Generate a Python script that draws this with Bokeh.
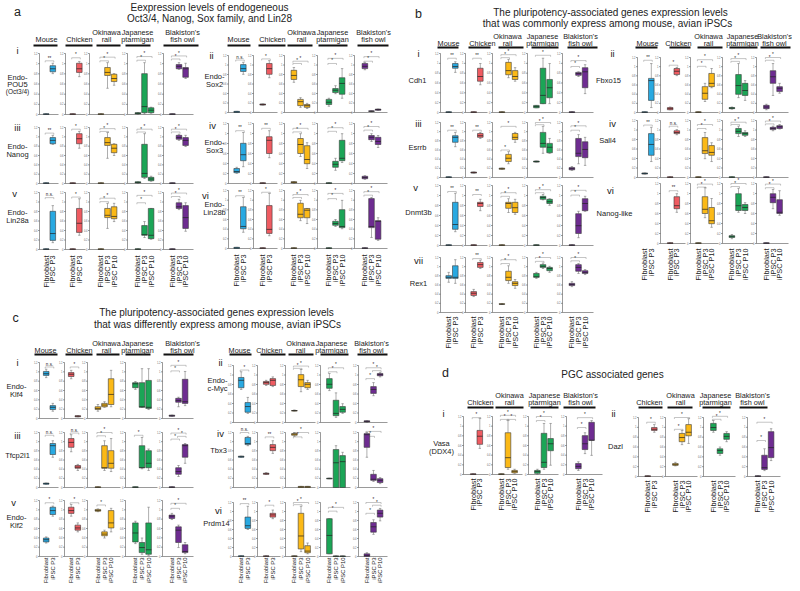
import math
from bokeh.plotting import figure
from bokeh.models import ColumnDataSource, Range1d
from bokeh.embed import file_html
from bokeh.resources import INLINE
from bokeh.core.properties import value

FONT = "Liberation Sans"

# ---------------- data ----------------
SPECIES = ["Mouse", "Chicken", "Okinawa\nrail", "Japanese\nptarmigan", "Blakiston's\nfish owl"]
SP_COLOR = ["#29A9E1", "#EF5B61", "#FBB917", "#1BA556", "#6E2C91"]
CELLS = [["Fibroblast", "iPSC P3"], ["Fibroblast", "iPSC P3"],
         ["Fibroblast", "iPSC P3", "iPSC P10"], ["Fibroblast", "iPSC P3", "iPSC P10"],
         ["Fibroblast", "iPSC P3", "iPSC P10"]]
TICK_LABELS = ["0", "0.2", "0.4", "0.6", "0.8", "1", "1.2"]

# each box: [low whisker, q1, median, q3, high whisker] as share of the panel axis
Z = [0.0, 0.0, 0.006, 0.012, 0.012]

POU5 = [[Z, [.67, .70, .75, .80, .84]],
        [Z, [.62, .69, .75, .84, .87]],
        [Z, [.43, .64, .69, .77, .85], [.48, .54, .59, .66, .67]],
        [[0, .01, .02, .03, .03], [.01, .03, .13, .67, .85], [.02, .03, .07, .11, .12]],
        [Z, [.74, .75, .79, .82, .85], [.59, .61, .75, .77, .84]]]
POU5_SIG = [[(0, 1, .88, "**")], [(0, 1, .93, "*")], [(0, 1, .88, "*"), (0, 2, .94, "*")],
            [(0, 1, .89, "*"), (0, 2, .95, "*")], [(0, 1, .91, "*"), (0, 2, .96, "*")]]

NANOG = [[Z, [.70, .71, .77, .82, .86]],
         [Z, [.63, .71, .80, .89, .93]],
         [Z, [.45, .68, .73, .82, .91], [.50, .55, .63, .70, .71]],
         [[0, .01, .02, .03, .03], [.09, .11, .18, .70, .89], [.04, .05, .08, .11, .13]],
         [Z, [.77, .79, .82, .86, .88], [.66, .68, .77, .82, .86]]]
NANOG_SIG = [[(0, 1, .9, "**")], [(0, 1, .97, "*")], [(0, 1, .93, "*"), (0, 2, .98, "*")],
             [(0, 1, .92, "*"), (0, 2, .97, "*")], [(0, 1, .92, "*"), (0, 2, .97, "*")]]

LIN28A = [[Z, [.12, .16, .28, .67, .77]],
          [Z, [.25, .30, .46, .72, .89]],
          [Z, [.37, .56, .60, .72, .81], [.49, .54, .58, .75, .81]],
          [Z, [.21, .25, .26, .42, .49], [.18, .19, .25, .72, .72]],
          [Z, [.70, .72, .75, .82, .88], [.32, .37, .56, .77, .82]]]
LIN28A_SIG = [[(0, 1, .91, "n.s.")], [(0, 1, .92, "*")], [(0, 1, .84, "*"), (0, 2, .9, "*")],
              [(0, 1, .82, "*"), (0, 2, .95, "*")], [(0, 1, .93, "*"), (0, 2, .99, "*")]]

SOX2 = [[[0, 0, .01, .02, .02], [.67, .72, .77, .84, .88]],
        [[.13, .13, .14, .15, .15], [.61, .67, .77, .86, .91]],
        [[.53, .58, .65, .74, .79], [.09, .12, .19, .23, .26], [.07, .09, .12, .14, .16]],
        [[.11, .14, .18, .23, .25], [.33, .35, .39, .42, .47], [.25, .32, .51, .61, .77]],
        [[.75, .77, .81, .86, .88], [.01, .02, .02, .03, .03], [.04, .04, .05, .06, .06]]]
SOX2_SIG = [[(0, 1, .92, "n.s.")], [(0, 1, .94, "*")], [(0, 1, .86, "*"), (0, 2, .9, "*")],
            [(0, 1, .86, "*"), (0, 2, .95, "*")], [(0, 1, .9, "*"), (0, 2, .98, "*")]]

SOX3 = [[[.17, .18, .20, .25, .27], [.28, .38, .48, .67, .85]],
        [Z, [.43, .50, .72, .78, .88]],
        [[0, .01, .02, .03, .03], [.45, .50, .65, .75, .83], [.25, .33, .40, .63, .68]],
        [Z, [.22, .27, .32, .37, .42], [.35, .38, .42, .72, .83]],
        [[.07, .08, .10, .12, .13], [.70, .73, .77, .80, .83], [.60, .65, .70, .77, .80]]]
SOX3_SIG = [[(0, 1, .88, "**")], [(0, 1, .92, "**")], [(0, 1, .86, "*"), (0, 2, .92, "*")],
            [(0, 1, .87, "*"), (0, 2, .93, "*")], [(0, 1, .89, "*"), (0, 2, .95, "*")]]

LIN28B = [[[0, 0, .01, .02, .02], [.28, .34, .38, .72, .88]],
          [Z, [.22, .26, .33, .74, .95]],
          [Z, [.48, .53, .59, .78, .83], [.43, .53, .66, .69, .69]],
          [Z, [.38, .40, .43, .47, .50], [.34, .36, .38, .67, .83]],
          [Z, [.19, .36, .38, .86, .88], [.14, .16, .47, .48, .53]]]
LIN28B_SIG = [[(0, 1, .91, "**")], [(0, 1, .97, "*")], [(0, 1, .88, "*"), (0, 2, .93, "*")],
              [(0, 1, .86, "*"), (0, 2, .95, "*")], [(0, 1, .92, "*"), (0, 2, .98, "*")]]

CDH1 = [[Z, [.68, .75, .78, .83, .86]],
        [Z, [.47, .53, .61, .75, .83]],
        [Z, [.59, .64, .71, .85, .90], [.53, .56, .61, .71, .76]],
        [[.08, .08, .10, .12, .12], [.15, .15, .29, .75, .92], [.15, .25, .42, .56, .83]],
        [Z, [.61, .63, .66, .68, .69], [.32, .42, .69, .76, .81]]]
CDH1_SIG = [[(0, 1, .92, "**")], [(0, 1, .92, "**")], [(0, 1, .93, "*"), (0, 2, .98, "*")],
            [(0, 2, .97, "*")], [(0, 1, .78, "*"), (0, 2, .88, "*")]]

ESRRB = [[Z, [.56, .64, .73, .76, .82]],
         [[.08, .08, .09, .10, .10], [.71, .73, .76, .80, .82]],
         [[.15, .15, .16, .17, .17], [.25, .29, .35, .42, .47], [.64, .69, .73, .80, .82]],
         [[.28, .28, .29, .30, .30], [.44, .55, .62, .82, .93], [.44, .45, .55, .62, .71]],
         [[.13, .14, .16, .18, .20], [.25, .38, .44, .71, .78], [.22, .36, .51, .65, .73]]]
ESRRB_SIG = [[(0, 1, .86, "**")], [(0, 1, .86, "**")], [(0, 1, .5, "*"), (0, 2, .93, "*")],
             [(0, 1, .96, "*"), (0, 2, 1.0, "*")], [(0, 1, .86, "*"), (0, 2, .94, "*")]]

DNMT3B = [[Z, [.23, .27, .35, .72, .87]],
          [Z, [.58, .65, .70, .72, .77]],
          [Z, [.55, .62, .70, .72, .78], [.52, .55, .63, .72, .77]],
          [Z, [.76, .77, .80, .82, .85], [.67, .70, .73, .77, .78]],
          [Z, [.13, .20, .33, .53, .57], [.57, .58, .70, .78, .82]]]
DNMT3B_SIG = [[(0, 1, .9, "**")], [(0, 1, .85, "**")], [(0, 1, .82, "*"), (0, 2, .88, "*")],
              [(0, 1, .88, "*"), (0, 2, .93, "*")], [(0, 1, .84, "*"), (0, 2, .92, "*")]]

REX1 = [[[.55, .62, .64, .67, .73], [.53, .62, .64, .85, .96]],
        [[.29, .31, .35, .38, .42], [.80, .82, .87, .91, .95]],
        [[.15, .15, .15, .16, .16], [.53, .58, .64, .75, .85], [.44, .49, .53, .56, .60]],
        [[.62, .64, .65, .71, .73], [.80, .82, .84, .87, .90], [.73, .76, .80, .82, .84]],
        [[.47, .49, .51, .53, .56], [.71, .75, .82, .87, .89], [.69, .71, .73, .76, .78]]]
REX1_SIG = [[], [(0, 1, .98, "**")], [(0, 1, .89, "*"), (0, 2, .96, "*")],
            [(0, 1, .93, "*"), (0, 2, 1.0, "*")], [(0, 1, .94, "*"), (0, 2, 1.0, "*")]]

FBXO15 = [[Z, [.09, .22, .58, .62, .89]],
          [[.05, .05, .07, .09, .10], [.67, .69, .75, .80, .82]],
          [Z, [.20, .24, .35, .47, .53], [.45, .47, .53, .71, .80]],
          [[.06, .07, .08, .09, .10], [.27, .33, .49, .69, .89], [.22, .31, .40, .53, .58]],
          [[.05, .07, .10, .13, .15], [.31, .53, .65, .76, .89], [.35, .38, .44, .47, .53]]]
FBXO15_SIG = [[(0, 1, .95, "**")], [(0, 1, .86, "*")], [(0, 1, .84, "*"), (0, 2, .96, "*")],
              [(0, 1, .93, "*"), (0, 2, .98, "*")], [(0, 1, .95, "*"), (0, 2, 1.0, "*")]]

SALL4 = [[[.06, .06, .07, .08, .08], [.28, .39, .58, .77, .88]],
         [Z, [.75, .77, .79, .82, .84]],
         [Z, [.33, .42, .47, .70, .79], [.28, .39, .44, .56, .61]],
         [Z, [.72, .77, .81, .86, .90], [.72, .74, .77, .79, .82]],
         [Z, [.82, .84, .86, .88, .90], [.85, .86, .89, .91, .93]]]
SALL4_SIG = [[(0, 1, .92, "**")], [(0, 1, .9, "n.s.")], [(0, 1, .86, "*"), (0, 2, .93, "*")],
             [(0, 1, .93, "*"), (0, 2, .97, "*")], [(0, 1, .94, "*"), (0, 2, .99, "*")]]

NANOG_LIKE = [None,
              [Z, [.52, .58, .63, .78, .83]],
              [Z, [.43, .50, .57, .78, .93], [.27, .33, .38, .60, .75]],
              [[.08, .10, .12, .13, .15], [.52, .55, .63, .83, .92], [.50, .55, .60, .65, .68]],
              [Z, [.58, .68, .77, .83, .90], [.47, .50, .52, .73, .88]]]
NANOG_LIKE_SIG = [[], [(0, 1, .88, "**")], [(0, 1, .94, "*"), (0, 2, .99, "*")],
                  [(0, 1, .95, "*"), (0, 2, 1.0, "*")], [(0, 1, .93, "*"), (0, 2, .99, "*")]]

KLF4 = [[[.73, .77, .80, .84, .88], [.13, .16, .20, .23, .27]],
        [[.71, .75, .79, .82, .86], [.03, .03, .04, .05, .05]],
        [[.13, .16, .18, .21, .25], [.20, .21, .24, .27, .30], [.21, .25, .43, .71, .86]],
        [[.52, .55, .62, .64, .66], [.20, .20, .21, .64, .89], [.16, .18, .20, .68, .89]],
        [[.04, .04, .05, .06, .06], [.21, .29, .32, .36, .38], [.23, .27, .30, .70, .84]]]
KLF4_SIG = [[(0, 1, .92, "n.s.")], [(0, 1, .92, "*")], [], [],
            [(0, 1, .85, "*"), (0, 2, .95, "*")]]

TFCP2L1 = [[[.06, .06, .07, .08, .08], [.55, .60, .76, .80, .85]],
           [[.65, .73, .82, .89, .96], [.31, .35, .37, .40, .42]],
           [Z, [.31, .35, .36, .76, .85], [.29, .35, .44, .67, .89]],
           [Z, [.34, .36, .36, .76, .91], [.31, .36, .44, .67, .70]],
           [Z, [.20, .24, .29, .36, .40], [.44, .55, .76, .78, .80]]]
TFCP2L1_SIG = [[(0, 1, .95, "n.s.")], [(0, 1, .99, "n.s.")], [(0, 1, .94, "*"), (0, 2, 1.0, "*")],
               [(0, 1, .95, "*")], [(0, 1, .88, "*"), (0, 2, .99, "*"), (1, 2, .93, "*")]]

KLF2 = [[[.24, .26, .30, .33, .35], [.72, .75, .82, .88, .90]],
        [[.72, .77, .82, .88, .93], [.44, .47, .51, .56, .60]],
        [[.80, .81, .82, .84, .85], [.33, .37, .40, .44, .47], [.44, .51, .60, .82, .86]],
        [[.23, .26, .42, .60, .63], [.04, .07, .16, .25, .33], [.02, .04, .12, .60, .88]],
        [[.66, .68, .72, .74, .77], [.16, .25, .47, .53, .56], [.05, .07, .09, .21, .25]]]
KLF2_SIG = [[(0, 1, .96, "*")], [(0, 1, .96, "*")], [(0, 1, .92, "*")], [],
            [(0, 1, .86, "*"), (0, 2, .95, "*")]]

CMYC = [[[.58, .61, .74, .79, .89], [.16, .18, .28, .35, .44]],
        [[.65, .67, .70, .72, .74], [.63, .65, .74, .77, .80]],
        [[.20, .20, .21, .21, .22], [.54, .63, .75, .84, .93], [.58, .61, .67, .70, .74]],
        [[.56, .60, .67, .77, .86], [.09, .12, .16, .39, .52], [.16, .18, .23, .28, .33]],
        [[0, .01, .02, .03, .03], [.47, .51, .58, .63, .70], [.80, .82, .84, .86, .88]]]
CMYC_SIG = [[(0, 1, .92, "*")], [], [(0, 1, .95, "*"), (0, 2, .99, "*")],
            [(0, 1, .89, "*"), (0, 2, .96, "*")], [(0, 1, .77, "*"), (0, 2, .96, "*"), (1, 2, .91, "*")]]

TBX3 = [[[.55, .55, .56, .57, .57], [.76, .78, .80, .91, .93]],
        [[.24, .24, .25, .26, .27], [.62, .67, .73, .78, .85]],
        [[.93, .95, .97, .98, 1.0], [0, 0, .01, .02, .02], [0, 0, .01, .02, .02]],
        [[.16, .16, .16, .17, .17], [0, 0, .45, .69, .76], [0, 0, .47, .58, .64]],
        [[.55, .73, .96, .98, 1.0], [.11, .13, .15, .24, .31], [.07, .09, .13, .16, .18]]]
TBX3_SIG = [[(0, 1, 1.0, "n.s.")], [(0, 1, .92, "**")], [(0, 1, .92, "*"), (0, 2, 1.0, "*")], [],
            [(0, 1, .93, "*"), (0, 2, 1.02, "*")]]

PRDM14 = [[Z, [.50, .52, .57, .73, .93]],
          [Z, [.70, .73, .77, .80, .86]],
          [Z, [.09, .14, .38, .80, .93], [.05, .07, .10, .20, .25]],
          [[.05, .05, .39, .70, .70], [0, 0, .005, .01, .01], [0, 0, .005, .01, .01]],
          [[0, 0, .02, .05, .07], [.41, .45, .55, .63, .68], [.66, .73, .80, .86, .89]]]
PRDM14_SIG = [[(0, 1, .98, "**")], [(0, 1, .95, "*")], [(0, 1, .96, "*"), (0, 2, 1.0, "*")],
              [(0, 1, .84, "*"), (0, 2, .91, "*")], [(0, 1, .8, "*"), (0, 2, 1.0, "*"), (1, 2, .95, "*")]]

# section d: Chicken, Okinawa rail, Japanese ptarmigan, Blakiston's fish owl
VASA = [[Z, [.45, .52, .66, .76, .97]],
        [Z, [.09, .12, .29, .72, .93], [.02, .03, .05, .07, .09]],
        [[0, .02, .05, .07, .09], [.09, .12, .21, .71, .88], [.16, .41, .53, .62, .88]],
        [[.07, .10, .14, .19, .22], [.36, .43, .53, .67, .72], [.33, .59, .59, .90, .93]]]
VASA_SIG = [[(0, 1, .98, "*")], [(0, 1, .95, "*"), (1, 2, .95, "*"), (0, 2, 1.02, "*")],
            [(0, 1, .93, "*"), (0, 2, 1.0, "*")], [(0, 1, .81, "*"), (0, 2, .98, "*")]]

DAZL = [[Z, [.75, .78, .80, .83, .88]],
        [[.18, .19, .20, .22, .24], [.54, .59, .66, .73, .78], [.56, .69, .75, .88, .98]],
        [[.75, .78, .83, .90, .95], [.36, .39, .44, .47, .50], [.59, .63, .68, .73, .76]],
        [Z, [.10, .12, .15, .36, .47], [.27, .32, .49, .76, .81]]]
DAZL_SIG = [[(0, 1, .92, "*")], [(0, 1, .8, "*"), (0, 2, 1.0, "*")],
            [(0, 1, .97, "*"), (0, 2, 1.02, "*")], [(0, 1, .61, "*"), (0, 2, .92, "*")]]

# ---------------- layout (pixel positions of panels) ----------------
GROUPS = [
    dict(sp=[0, 1, 2, 3, 4], ax=[39, 65, 89, 127, 163], rx=[58, 85, 124, 160, 193],
         hx=[46, 79, 106, 137, 182], bars=[(33, 57), (65, 92), (96, 120), (125, 150), (163, 198)],
         hy=39, uy=45, rows=[(53, 114), (127, 183), (192, 249)], xl=255, xs="xlab",
         data=[(POU5, POU5_SIG), (NANOG, NANOG_SIG), (LIN28A, LIN28A_SIG)],
         labels=[("i", 17, 50, "num"), ("iii", 17, 127, "num"), ("v", 14, 193, "num"),
                 ("Endo-", 17, 77, "gene"), ("POU5", 17, 84, "gene"), ("(Oct3/4)", 17, 91, "genes"),
                 ("Endo-", 17, 146, "gene"), ("Nanog", 17, 154, "gene"),
                 ("Endo-", 17, 212, "gene"), ("Lin28a", 17, 220, "gene")]),
    dict(sp=[0, 1, 2, 3, 4], ax=[228, 253, 284, 317, 354], rx=[250, 277, 315, 352, 387],
         hx=[238, 272, 301, 332, 373], bars=[(227, 250), (258, 285), (287, 312), (318, 347), (357, 388)],
         hy=39, uy=45, rows=[(55, 112), (123, 183), (190, 248)], xl=254, xs="xlab",
         data=[(SOX2, SOX2_SIG), (SOX3, SOX3_SIG), (LIN28B, LIN28B_SIG)],
         labels=[("ii", 211, 55, "num"), ("iv", 212, 125, "num"), ("vi", 205, 195, "num"),
                 ("Endo-", 214, 76, "gene"), ("Sox2", 214, 84, "gene"),
                 ("Endo-", 214, 142, "gene"), ("Sox3", 214, 150, "gene"),
                 ("Endo-", 214, 204, "gene"), ("Lin28b", 214, 212, "gene")]),
    dict(sp=[0, 1, 2, 3, 4], ax=[440, 465, 492, 527, 562], rx=[462, 487, 523, 557, 593],
         hx=[448, 482, 507, 542, 580], bars=[(437, 458), (468, 490), (498, 523), (531, 558), (567, 597)],
         hy=43, uy=47, rows=[(53, 112), (122, 177), (185, 245), (257, 312)], xl=316, xs="xlab",
         data=[(CDH1, CDH1_SIG), (ESRRB, ESRRB_SIG), (DNMT3B, DNMT3B_SIG), (REX1, REX1_SIG)],
         labels=[("i", 418, 53, "num"), ("iii", 418, 123, "num"), ("v", 415, 187, "num"),
                 ("vii", 418, 260, "num"),
                 ("Cdh1", 417, 80, "gene"), ("Esrrb", 417, 147, "gene"),
                 ("Dnmt3b", 418, 212, "gene"), ("Rex1", 418, 283, "gene")]),
    dict(sp=[0, 1, 2, 3, 4], ax=[637, 660, 690, 722, 756], rx=[657, 685, 718, 753, 788],
         hx=[647, 678, 708, 742, 774], bars=[(635, 657), (669, 690), (697, 722), (729, 757), (760, 790)],
         hy=43, uy=47, rows=[(57, 112), (120, 177), (183, 243)], xl=248, xs="xlab",
         data=[(FBXO15, FBXO15_SIG), (SALL4, SALL4_SIG), (NANOG_LIKE, NANOG_LIKE_SIG)],
         labels=[("ii", 612, 53, "num"), ("iv", 612, 123, "num"), ("vi", 610, 190, "num"),
                 ("Fbxo15", 608, 80, "gene"), ("Sall4", 607, 140, "gene"),
                 ("Nanog-like", 614, 213, "gene")]),
    dict(sp=[0, 1, 2, 3, 4], ax=[39, 64, 87, 125, 162], rx=[58, 83, 120, 157, 193],
         hx=[45, 79, 106, 137, 182], bars=[(34, 57), (65, 92), (96, 119), (125, 150), (163, 193)],
         hy=350, uy=354, rows=[(362, 418), (432, 487), (500, 556)], xl=557, xs="xlabs",
         data=[(KLF4, KLF4_SIG), (TFCP2L1, TFCP2L1_SIG), (KLF2, KLF2_SIG)],
         labels=[("i", 17, 362, "num"), ("iii", 17, 435, "num"), ("v", 13, 502, "num"),
                 ("Endo-", 16, 386, "gene"), ("Klf4", 16, 394, "gene"),
                 ("Tfcp2l1", 17, 455, "gene"),
                 ("Endo-", 16, 517, "gene"), ("Klf2", 16, 525, "gene")]),
    dict(sp=[0, 1, 2, 3, 4], ax=[233, 257, 285, 320, 358], rx=[254, 280, 315, 350, 387],
         hx=[239, 269, 300, 331, 371], bars=[(229, 251), (260, 285), (288, 313), (320, 348), (357, 387)],
         hy=350, uy=354, rows=[(365, 422), (432, 487), (502, 556)], xl=557, xs="xlabs",
         data=[(CMYC, CMYC_SIG), (TBX3, TBX3_SIG), (PRDM14, PRDM14_SIG)],
         labels=[("ii", 220, 362, "num"), ("iv", 220, 433, "num"), ("vi", 218, 510, "num"),
                 ("Endo-", 217, 380, "gene"), ("c-Myc", 217, 388, "gene"),
                 ("Tbx3", 218, 450, "gene"), ("Prdm14", 216, 523, "gene")]),
    dict(sp=[1, 2, 3, 4], ax=[463, 492, 528, 566], rx=[488, 522, 558, 602],
         hx=[480, 509, 544, 580], bars=[(467, 493), (495, 523), (530, 558), (563, 595)],
         hy=402, uy=407, rows=[(416, 474)], xl=478, xs="xlab",
         data=[(VASA, VASA_SIG)],
         labels=[("i", 443, 413, "num"), ("Vasa", 441, 443, "gene"), ("(DDX4)", 441, 451, "gene")]),
    dict(sp=[1, 2, 3, 4], ax=[638, 665, 703, 747], rx=[662, 697, 735, 780],
         hx=[649, 680, 715, 752], bars=[(638, 662), (667, 692), (702, 730), (739, 767)],
         hy=402, uy=407, rows=[(417, 476)], xl=480, xs="xlab",
         data=[(DAZL, DAZL_SIG)],
         labels=[("ii", 613, 413, "num"), ("Dazl", 615, 446, "gene")]),
]

TITLES = [("Eexpression levels of endogeneous", 209, 7), ("Oct3/4, Nanog, Sox family, and Lin28", 209, 18),
          ("The pluripotency-associated genes expression levels", 610, 12),
          ("that was commonly express among mouse, avian iPSCs", 607, 23),
          ("The pluripotency-associated genes expression levels", 216, 312),
          ("that was differently express among mouse, avian iPSCs", 217, 324),
          ("PGC associated genes", 612, 374)]
LETTERS = [("a", 17, 11), ("b", 418, 13), ("c", 15, 317), ("d", 445, 372)]

STYLES = {
    "title": dict(size="10px", align="center", base="middle", angle=0.0),
    "letter": dict(size="12.5px", align="center", base="middle", angle=0.0),
    "header": dict(size="7.3px", align="center", base="middle", angle=0.0),
    "num": dict(size="9.5px", align="center", base="middle", angle=0.0),
    "gene": dict(size="7.5px", align="center", base="middle", angle=0.0),
    "genes": dict(size="6.5px", align="center", base="middle", angle=0.0),
    "xlab": dict(size="7.3px", align="right", base="middle", angle=math.pi / 2),
    "xlabs": dict(size="5.9px", align="right", base="middle", angle=math.pi / 2),
    "tick": dict(size="2.6px", align="right", base="middle", angle=0.0),
    "star": dict(size="4.5px", align="center", base="bottom", angle=0.0),
}
TEXT = {k: dict(x=[], y=[], text=[]) for k in STYLES}


def add_text(style, x, y, t):
    TEXT[style]["x"].append(x)
    TEXT[style]["y"].append(y)
    TEXT[style]["text"].append(t)


BOX = dict(left=[], right=[], top=[], bottom=[], color=[])
WHISK = dict(x0=[], y0=[], x1=[], y1=[])
MED = dict(x0=[], y0=[], x1=[], y1=[])
AXL = dict(x0=[], y0=[], x1=[], y1=[])
BRK = dict(x0=[], y0=[], x1=[], y1=[])
BAR = dict(x0=[], y0=[], x1=[], y1=[])


def seg(d, x0, y0, x1, y1):
    d["x0"].append(x0); d["y0"].append(y0); d["x1"].append(x1); d["y1"].append(y1)


SPACING = 6.6
HALF = 2.8

for g in GROUPS:
    for k, s in enumerate(g["sp"]):
        name = SPECIES[s].split("\n")
        if len(name) == 1:
            add_text("header", g["hx"][k], g["hy"], name[0])
        else:
            add_text("header", g["hx"][k], g["hy"] - 7.5, name[0])
            add_text("header", g["hx"][k], g["hy"], name[1])
        seg(BAR, g["bars"][k][0], g["uy"], g["bars"][k][1], g["uy"])
        ax, rx = g["ax"][k], g["rx"][k]
        ncell = len(CELLS[s])
        mid = (ax + rx) / 2.0 + 0.5
        centers = [mid + (c - (ncell - 1) / 2.0) * SPACING for c in range(ncell)]
        for c, cname in enumerate(CELLS[s]):
            add_text(g["xs"], centers[c], g["xl"], cname)
        for r, (top, bottom) in enumerate(g["rows"]):
            boxes = g["data"][r][0][k]
            sigs = g["data"][r][1][k]
            if boxes is None:
                continue
            h = bottom - top
            Y = lambda v: bottom - v * h
            seg(AXL, ax, bottom, ax, top)
            seg(AXL, ax, bottom, rx, bottom)
            for t_i, lab in enumerate(TICK_LABELS):
                ty = bottom - t_i * h / (len(TICK_LABELS) - 1)
                seg(AXL, ax - 1.5, ty, ax, ty)
                add_text("tick", ax - 2.0, ty, lab)
            for c, bx in enumerate(boxes):
                lo, q1, md, q3, hi = bx
                cx = centers[c]
                seg(WHISK, cx, Y(lo), cx, Y(q1))
                seg(WHISK, cx, Y(q3), cx, Y(hi))
                seg(WHISK, cx - 1.2, Y(lo), cx + 1.2, Y(lo))
                seg(WHISK, cx - 1.2, Y(hi), cx + 1.2, Y(hi))
                BOX["left"].append(cx - HALF); BOX["right"].append(cx + HALF)
                BOX["top"].append(Y(q3)); BOX["bottom"].append(Y(q1))
                BOX["color"].append(SP_COLOR[s])
                seg(MED, cx - HALF, Y(md), cx + HALF, Y(md))
            for (i, j, lev, lab) in sigs:
                yy = Y(lev)
                seg(BRK, centers[i] - 1, yy, centers[j] + 1, yy)
                seg(BRK, centers[i] - 1, yy, centers[i] - 1, yy + 1.5)
                seg(BRK, centers[j] + 1, yy, centers[j] + 1, yy + 1.5)
                add_text("star", (centers[i] + centers[j]) / 2.0, yy - 0.3, lab)
    for (t, x, y, st) in g["labels"]:
        add_text(st, x, y, t)

for (t, x, y) in TITLES:
    add_text("title", x, y, t)
for (t, x, y) in LETTERS:
    add_text("letter", x, y, t)

p = figure(width=792, height=583, x_range=Range1d(0, 792), y_range=Range1d(583, 0),
           output_backend="svg", toolbar_location=None, x_axis_type=None, y_axis_type=None,
           min_border=0, min_border_left=0, min_border_right=0, min_border_top=0, min_border_bottom=0)
p.grid.visible = False
p.outline_line_color = None
p.background_fill_color = "white"

p.segment(x0="x0", y0="y0", x1="x1", y1="y1", source=ColumnDataSource(AXL), line_color="#555555", line_width=0.6)
p.segment(x0="x0", y0="y0", x1="x1", y1="y1", source=ColumnDataSource(BRK), line_color="#8a8a8a", line_width=0.5)
p.segment(x0="x0", y0="y0", x1="x1", y1="y1", source=ColumnDataSource(WHISK), line_color="#777777", line_width=0.6)
p.quad(left="left", right="right", top="top", bottom="bottom", fill_color="color",
       source=ColumnDataSource(BOX), line_color="#3a3a3a", line_width=0.6)
p.segment(x0="x0", y0="y0", x1="x1", y1="y1", source=ColumnDataSource(MED), line_color="#222222", line_width=0.7)
p.segment(x0="x0", y0="y0", x1="x1", y1="y1", source=ColumnDataSource(BAR), line_color="#111111", line_width=2.0)

for k, st in STYLES.items():
    if not TEXT[k]["x"]:
        continue
    p.text(x="x", y="y", text="text", source=ColumnDataSource(TEXT[k]),
           text_font=value(FONT), text_font_size=value(st["size"]), text_align=st["align"],
           text_baseline=st["base"], angle=st["angle"], text_color="#222222" if k != "tick" else "#666666")

open("out.html", "w").write(file_html(p, INLINE))
